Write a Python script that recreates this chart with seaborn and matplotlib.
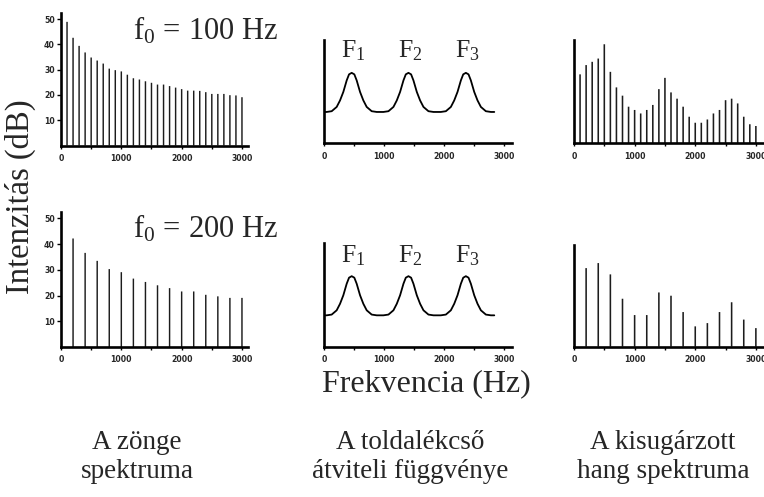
import matplotlib
matplotlib.use("Agg")
import matplotlib.pyplot as plt
import seaborn as sns
from matplotlib.ticker import FixedLocator, NullFormatter

# ---- glottal source spectra (harmonic frequency in Hz, level in dB) ----
src100_hz = [100, 200, 300, 400, 500, 600, 700, 800, 900, 1000,
             1100, 1200, 1300, 1400, 1500, 1600, 1700, 1800, 1900, 2000,
             2100, 2200, 2300, 2400, 2500, 2600, 2700, 2800, 2900, 3000]
src100_db = [48.9, 42.6, 39.4, 36.8, 34.8, 33.6, 32.4, 30.4, 29.8, 29.3,
             28.0, 26.6, 26.1, 25.4, 24.8, 24.1, 24.1, 23.5, 22.9, 22.3,
             21.7, 21.7, 21.6, 21.1, 20.4, 20.4, 20.4, 19.9, 19.8, 19.1]

src200_hz = [200, 400, 600, 800, 1000, 1200, 1400, 1600, 1800, 2000,
             2200, 2400, 2600, 2800, 3000]
src200_db = [42.2, 36.6, 33.5, 30.3, 29.1, 26.6, 25.3, 24.0, 22.9, 21.6,
             21.6, 20.3, 19.7, 19.1, 19.1]

# ---- vocal tract transfer function (Hz, dB) ----
formants_hz = [461, 1406, 2362]
formant_names = [r"$\mathrm{F_1}$", r"$\mathrm{F_2}$", r"$\mathrm{F_3}$"]
tract_hz = [0, 44, 128, 211, 267, 322, 378, 417, 461, 505, 544, 600, 655, 711, 794, 878,
            989, 1073, 1156, 1212, 1267, 1323, 1362, 1406, 1450, 1489, 1545, 1600, 1656, 1739, 1823,
            1945, 2029, 2112, 2168, 2223, 2279, 2318, 2362, 2406, 2445, 2501, 2556, 2612, 2695, 2779, 2835]
tract_db = [12.5, 12.5, 12.8, 14.5, 17.1, 20.5, 25.1, 27.5, 28.1, 27.5, 25.1, 20.5, 17.1, 14.5, 12.8, 12.5,
            12.5, 12.8, 14.5, 17.1, 20.5, 25.1, 27.5, 28.1, 27.5, 25.1, 20.5, 17.1, 14.5, 12.8, 12.5,
            12.5, 12.8, 14.5, 17.1, 20.5, 25.1, 27.5, 28.1, 27.5, 25.1, 20.5, 17.1, 14.5, 12.8, 12.5, 12.5]

# ---- radiated spectra (Hz, dB) ----
rad100_hz = src100_hz
rad100_db = [27.5, 31.2, 32.5, 33.8, 39.5, 28.5, 22.3, 19.0, 14.6, 13.3,
             11.9, 13.3, 15.3, 21.6, 26.1, 20.3, 17.8, 14.6, 10.6, 8.2,
             8.2, 9.5, 11.9, 13.3, 17.2, 17.8, 15.9, 10.6, 7.6, 6.9]
rad200_hz = src200_hz
rad200_db = [31.3, 33.3, 28.8, 19.1, 12.6, 12.6, 21.6, 20.3, 13.8, 8.1,
             9.4, 13.8, 17.7, 10.8, 7.4]

f0_labels = [r"$\mathrm{f_0\,=\,100\ Hz}$", r"$\mathrm{f_0\,=\,200\ Hz}$"]
y_ticks = [10, 20, 30, 40, 50]
x_major = [0, 1000, 2000, 3000]
x_minor = [500, 1500, 2500]

sns.set_style("ticks")
plt.rcParams["font.family"] = ["Liberation Serif", "DejaVu Serif"]
plt.rcParams["mathtext.fontset"] = "custom"
plt.rcParams["mathtext.rm"] = "Liberation Serif"
plt.rcParams["mathtext.it"] = "Liberation Serif:italic"

W, H = 764, 497
fig = plt.figure(figsize=(W / 100, H / 100), dpi=100)
fig.patch.set_facecolor("white")


def px_axes(x0, x1, ytop, ybot):
    """Axes placed from pixel edges (left, right, top, bottom)."""
    ax = fig.add_axes([x0 / W, (H - ybot) / H, (x1 - x0) / W, (ybot - ytop) / H])
    ax.set_facecolor("none")
    return ax


def style(ax, xmax, ymax, yticks):
    ax.set_xlim(0, xmax)
    ax.set_ylim(0, ymax)
    for s in ("top", "right"):
        ax.spines[s].set_visible(False)
    for s in ("left", "bottom"):
        ax.spines[s].set_linewidth(1.9)
        ax.spines[s].set_color("black")
    ax.xaxis.set_major_locator(FixedLocator(x_major))
    ax.xaxis.set_minor_locator(FixedLocator(x_minor))
    ax.xaxis.set_minor_formatter(NullFormatter())
    ax.set_xticklabels([str(v) for v in x_major])
    ax.tick_params(axis="x", which="both", direction="out", length=2.5, width=1.0,
                   pad=3.5, labelsize=5.6, color="black")
    if yticks:
        ax.set_yticks(y_ticks)
        ax.set_yticklabels([str(v) for v in y_ticks])
        ax.tick_params(axis="y", direction="out", length=3, width=1.0, pad=1.5,
                       labelsize=5.6, color="black")
    else:
        ax.set_yticks([])
    for lab in ax.get_xticklabels() + ax.get_yticklabels():
        lab.set_fontfamily("DejaVu Sans")
        lab.set_fontweight("bold")
    ax.set_xlabel("")
    ax.set_ylabel("")


def bars(ax, hz, db, width):
    sns.barplot(x=hz, y=db, native_scale=True, width=width, color="#1c1c1c",
                saturation=1, errorbar=None, linewidth=0, ax=ax)
    for p in ax.patches:
        p.set_snap(False)


# --- source spectra ---
ax1 = px_axes(61, 248, 12.5, 145.5)
bars(ax1, src100_hz, src100_db, 0.24)
style(ax1, 3100, 52.6, True)

ax4 = px_axes(61, 248, 212, 347)
bars(ax4, src200_hz, src200_db, 0.12)
style(ax4, 3100, 52.5, True)

# --- transfer functions ---
for ytop, ybot, fy in ((40, 143.3, 37.0), (243.3, 346.7, 36.4)):
    ax = px_axes(324, 512, ytop, ybot)
    sns.lineplot(x=tract_hz, y=tract_db, color="black", linewidth=1.3, ax=ax)
    style(ax, 3130, 41.2, False)
    for f, name in zip(formants_hz, formant_names):
        ax.text(f + 25, fy, name, ha="center", va="center", fontsize=18.5,
                clip_on=False)

# --- radiated spectra ---
ax3 = px_axes(574, 768, 40, 143.3)
bars(ax3, rad100_hz, rad100_db, 0.26)
style(ax3, 3200, 41.2, False)

ax6 = px_axes(574, 768, 245, 346.7)
bars(ax6, rad200_hz, rad200_db, 0.13)
style(ax6, 3200, 40.5, False)

# --- texts ---
fig.text(133 / W, 1 - 31 / H, f0_labels[0], fontsize=22, ha="left", va="center")
fig.text(133 / W, 1 - 229 / H, f0_labels[1], fontsize=22, ha="left", va="center")
fig.text(20 / W, 1 - 197 / H, "Intenzitás (dB)", fontsize=23.5, rotation=90,
         ha="center", va="center")
fig.text(426 / W, 1 - 384 / H, "Frekvencia (Hz)", fontsize=23, ha="center", va="center")

bottom_labels = [("A zönge\nspektruma", 137), ("A toldalékcső\nátviteli függvénye", 410),
                 ("A kisugárzott\nhang spektruma", 663)]
for txt, cx in bottom_labels:
    fig.text(cx / W, 1 - 457 / H, txt, fontsize=19.5, ha="center", va="center",
             linespacing=1.25)

fig.savefig("out.png", dpi=100)
